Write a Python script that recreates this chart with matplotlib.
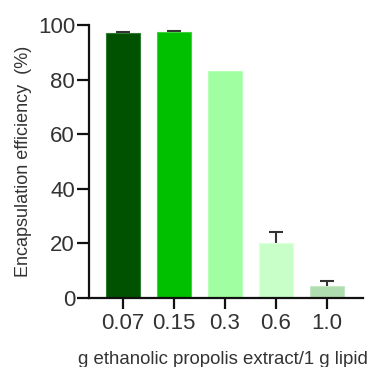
import numpy as np
import matplotlib.pyplot as plt

categories = ["0.07", "0.15", "0.3", "0.6", "1.0"]
efficiency = [97.0, 97.5, 83.2, 20.0, 4.5]
err_upper = [0.3, 0.3, 0.0, 4.0, 1.6]
bar_colors = ["#005200", "#00c000", "#a0ffa0", "#c8ffc8", "#b0ddb0"]
edge_colors = ["#2e7a2e", "#40d040", "#b8ffb8", "#dcffdc", "#c4e8c4"]
yticks = [0, 20, 40, 60, 80, 100]

plt.rcParams['font.family'] = ['Liberation Sans', 'DejaVu Sans']

fig = plt.figure(figsize=(3.72, 3.67), dpi=100, facecolor='white')
ax = fig.add_axes([0.239, 0.188, 0.737, 0.744])

x = np.arange(len(categories))
ax.bar(x, efficiency, width=0.67, color=bar_colors, edgecolor=edge_colors,
       linewidth=0.8, zorder=2)

# only the upper whisker shows: draw symmetric bars behind the columns
eb = np.array(err_upper)
has_err = eb > 0
ax.errorbar(x[has_err], np.array(efficiency)[has_err], yerr=eb[has_err], fmt='none',
            ecolor='#333333', elinewidth=1.5, capsize=5, capthick=1.5, zorder=1)

ax.set_xlim(-0.667, 4.706)
ax.set_ylim(0, 100)
ax.set_xticks(x)
ax.set_xticklabels(categories)
ax.set_yticks(yticks)

for side in ['top', 'right']:
    ax.spines[side].set_visible(False)
for side in ['left', 'bottom']:
    ax.spines[side].set_linewidth(1.6)
    ax.spines[side].set_color('#111111')

ax.tick_params(axis='y', length=9, width=1.6, labelsize=16, pad=1,
               labelcolor='#333333', color='#111111')
ax.tick_params(axis='x', length=8, width=1.6, labelsize=16, pad=3,
               labelcolor='#333333', color='#111111')

ax.set_ylabel("Encapsulation efficiency  (%)", fontsize=13, color='#333333')
ax.yaxis.set_label_coords(-0.24, 0.5)
ax.yaxis.label.set_va('center')
ax.set_xlabel("g ethanolic propolis extract/1 g lipid", fontsize=13.4,
              color='#333333')
ax.xaxis.set_label_coords(0.49, -0.225)
ax.xaxis.label.set_va('center')

fig.savefig("out.png", dpi=100, facecolor='white')
